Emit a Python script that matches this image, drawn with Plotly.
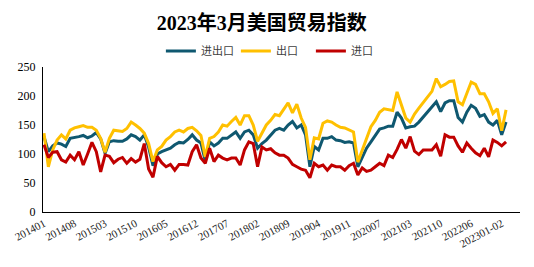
import plotly.graph_objects as go

categories = (
    [f"{y}{m:02d}" for y in range(2014, 2020) for m in range(1, 13)]
    + ["202001-02"] + [f"2020{m:02d}" for m in range(3, 13)]
    + ["202101-02"] + [f"2021{m:02d}" for m in range(3, 13)]
    + ["202201-02"] + [f"2022{m:02d}" for m in range(3, 13)]
    + ["202301-02", "202303"]
)

tick_labels = ["201401", "201408", "201503", "201510", "201605", "201612", "201707",
               "201802", "201809", "201904", "201911", "202007", "202103", "202110",
               "202206", "202301-02"]

total = [130, 104, 114, 119, 117, 113, 127, 128, 130, 132, 128, 131, 137, 126, 101, 121,
         123, 122, 122, 126, 133, 130, 124, 133, 112, 80, 100, 104, 107, 110, 116, 120,
         119, 125, 133, 124, 119, 88, 121, 114, 119, 127, 127, 133, 138, 127, 138, 141,
         133, 110, 118, 124, 133, 141, 144, 141, 150, 156, 145, 150, 133, 78, 113, 107,
         127, 127, 130, 124, 123, 120, 121, 119, 78, 93, 110, 121, 133, 143, 145, 148,
         148, 172, 162, 145, 147, 148, 155, 164, 171, 180, 190, 173, 188, 192, 192, 163,
         155, 172, 184, 179, 165, 168, 155, 150, 158, 133, 155]

exports = [136, 78, 107, 124, 133, 126, 141, 145, 147, 149, 146, 146, 141, 127, 103, 127,
           141, 140, 139, 144, 155, 150, 144, 136, 118, 87, 107, 113, 124, 130, 138, 141,
           138, 144, 146, 140, 132, 95, 127, 130, 138, 150, 148, 156, 163, 150, 166, 166,
           150, 122, 135, 150, 158, 168, 166, 178, 188, 171, 186, 162, 146, 90, 128, 126,
           153, 157, 155, 150, 146, 145, 142, 138, 86, 107, 128, 147, 158, 172, 178, 176,
           175, 207, 185, 162, 155, 169, 179, 189, 198, 208, 230, 216, 220, 225, 226, 190,
           185, 206, 224, 220, 204, 204, 190, 170, 178, 140, 176]

imports = [116, 94, 103, 104, 90, 86, 98, 90, 104, 81, 100, 120, 104, 69, 98, 96,
           85, 91, 94, 84, 92, 86, 91, 118, 74, 60, 96, 85, 78, 82, 72, 82,
           82, 81, 104, 116, 93, 84, 110, 87, 98, 93, 90, 93, 93, 81, 107, 121,
           118, 78, 112, 107, 109, 102, 98, 98, 93, 82, 78, 74, 72, 59, 84, 78,
           81, 72, 81, 78, 78, 72, 80, 84, 64, 76, 70, 72, 78, 84, 80, 98,
           94, 108, 125, 110, 130, 105, 99, 107, 107, 107, 116, 96, 133, 129, 129, 114,
           103, 119, 110, 102, 97, 110, 95, 124, 120, 114, 121]

series = [("进出口", total, "#0F5870"), ("出口", exports, "#FFC000"), ("进口", imports, "#C00000")]

fig = go.Figure()
for name, vals, color in series:
    fig.add_trace(go.Scatter(x=categories, y=vals, mode="lines", name=name,
                             line=dict(color=color, width=3)))

serif = "Times New Roman, Liberation Serif, Noto Sans CJK SC, serif"
fig.update_layout(
    width=534, height=267,
    margin=dict(l=43, r=14, t=67, b=55),
    paper_bgcolor="white", plot_bgcolor="white",
    title=dict(text="<b>2023年3月美国贸易指数</b>", x=0.49, xanchor="center",
               y=0.915, yanchor="middle",
               font=dict(family=serif, size=20, color="black")),
    legend=dict(orientation="h", x=0.483, xanchor="center", y=1.11, yanchor="middle",
                font=dict(family="Noto Sans CJK SC, sans-serif", size=11, color="#404040"),
                itemwidth=30, entrywidth=30, tracegroupgap=0, bgcolor="rgba(0,0,0,0)"),
    showlegend=True,
)
fig.update_xaxes(type="category", range=[-0.23, 109.2], showline=True, linecolor="black",
                 linewidth=1, showgrid=False, zeroline=False, ticks="",
                 tickmode="array", tickvals=tick_labels, ticktext=tick_labels,
                 tickangle=-28, tickfont=dict(family=serif, size=11, color="#222"))
fig.update_yaxes(range=[0, 250], tickvals=[0, 50, 100, 150, 200, 250], showline=True,
                 linecolor="black", linewidth=1, showgrid=False, zeroline=False, ticks="",
                 ticklabelstandoff=4,
                 tickfont=dict(family=serif, size=12, color="black"))

fig.write_html("out.html")
